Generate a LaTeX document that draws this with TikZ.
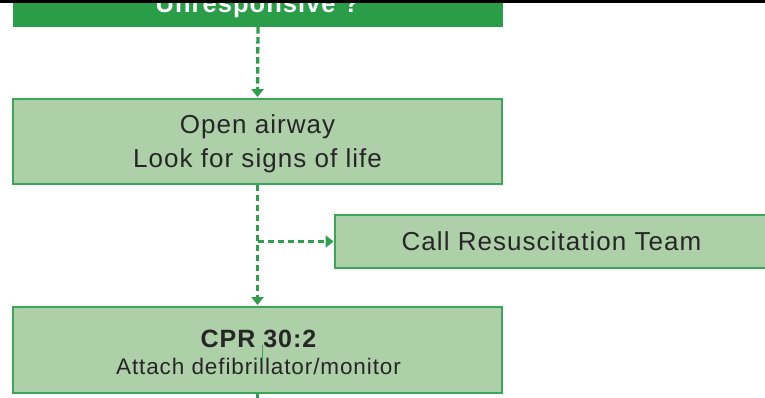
\documentclass[tikz,border=0pt]{standalone}
\usepackage{fontspec}
\setmainfont{Liberation Sans}[LetterSpace=4]
\usetikzlibrary{arrows.meta}
\definecolor{dgreen}{HTML}{2A9D48}
\definecolor{lfill}{HTML}{AED0A9}
\definecolor{bgreen}{HTML}{3DA558}
\definecolor{agreen}{HTML}{2E9E4C}
\definecolor{tgrey}{HTML}{262626}
\tikzset{
  topbox/.style={fill=dgreen, draw=none, minimum width=490pt, minimum height=44pt, inner sep=0pt},
  stepbox/.style={fill=lfill, draw=bgreen, line width=1.8pt, inner sep=0pt},
  toptext/.style={anchor=base, inner sep=0pt, text=white, font=\fontsize{25.5}{30}\selectfont\bfseries},
  steptext/.style={anchor=base, inner sep=0pt, text=tgrey, font=\fontsize{26}{30}\selectfont},
  boldtext/.style={steptext, font=\fontsize{25}{30}\selectfont\bfseries},
  smalltext/.style={steptext, font=\fontsize{22.5}{26}\selectfont},
  dline/.style={agreen, line width=3.3pt, dash pattern=on 6.5pt off 3.5pt},
  arr/.style={dline, -{Triangle[width=12pt,length=8pt]}},
}
\begin{document}
\begin{tikzpicture}[x=1pt,y=-1pt]
\useasboundingbox (0,0) rectangle (765,397);
\clip (0,0) rectangle (765,397);
\node[topbox] (box1) at (258,5) {};
\node[toptext] (t1) at (257.5,12) {Unresponsive ?};
\fill[black] (0,0) rectangle (765,2.5);
\node[stepbox, minimum width=489pt, minimum height=85pt] (box2) at (257.5,141.5) {};
\node[steptext] (t2a) at (257.5,133) {Open airway};
\node[steptext] (t2b) at (257.5,167) {Look for signs of life};
\node[stepbox, minimum width=433pt, minimum height=53pt] (box3) at (551.5,241.5) {};
\node[steptext] (t3) at (551.5,250.5) {Call Resuscitation Team};
\node[stepbox, minimum width=489pt, minimum height=86pt] (box4) at (257.5,350) {};
\node[boldtext] (t4a) at (258.5,347.5) {CPR 30:2};
\node[smalltext] (t4b) at (258.5,374) {Attach defibrillator/monitor};
\coordinate (bot) at (257.5,402);
\draw[arr] (box1.south) -- ([yshift=1pt]box2.north);
\draw[arr] (box2.south) -- ([yshift=1pt]box4.north);
\draw[arr] (box3.west -| box2.south) -- ([xshift=-0.5pt]box3.west);
\draw[dline] (box4.south) -- (bot);
\draw[bgreen, line width=1.2pt] (262.5,345) -- (262.5,363);
\end{tikzpicture}
\end{document}
